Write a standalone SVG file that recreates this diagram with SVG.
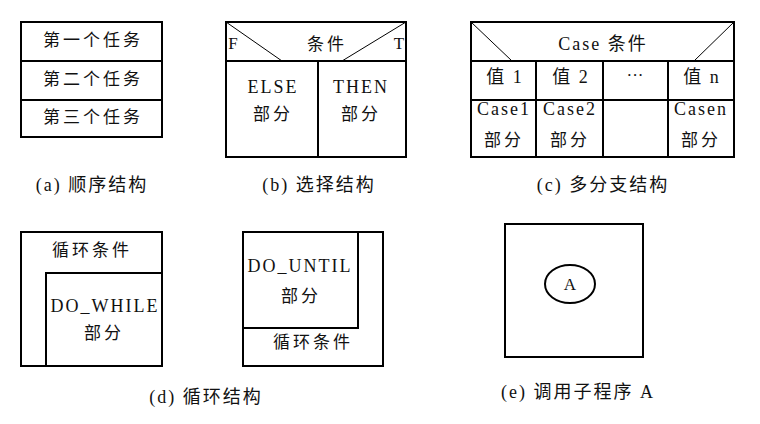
<svg xmlns="http://www.w3.org/2000/svg" width="760" height="424" viewBox="0 0 760 424">
<style>
.b{fill:none;stroke:#000;stroke-width:2}
.d{fill:none;stroke:#000;stroke-width:1}
text{font-family:"Liberation Serif","Noto Sans CJK SC",serif;font-size:17px;fill:#111;text-anchor:middle}
.c{letter-spacing:3px}
.l{letter-spacing:2px;font-size:18px}
.cap{font-size:18px;letter-spacing:2px}
</style>
<rect width="760" height="424" fill="#fff"/>
<g id="a">
<rect class="b" x="21" y="22" width="141" height="115"/>
<line class="b" x1="21" y1="61" x2="162" y2="61"/>
<line class="b" x1="21" y1="100" x2="162" y2="100"/>
<text class="c" x="93" y="46">第一个任务</text>
<text class="c" x="93" y="85">第二个任务</text>
<text class="c" x="93" y="123">第三个任务</text>
<text class="cap" x="92" y="191">(a) 顺序结构</text>
</g>
<g id="b">
<rect class="b" x="226" y="22" width="180" height="135"/>
<line class="b" x1="226" y1="61" x2="406" y2="61"/>
<line class="b" x1="318" y1="61" x2="318" y2="157"/>
<line class="d" x1="226" y1="22" x2="282" y2="61"/>
<line class="d" x1="406" y1="22" x2="342" y2="61"/>
<text x="233" y="49" font-size="18">F</text>
<text x="399" y="49" font-size="18">T</text>
<text class="c" x="327" y="50">条件</text>
<text class="l" x="273" y="93">ELSE</text>
<text class="c" x="273" y="120">部分</text>
<text class="l" x="361" y="93">THEN</text>
<text class="c" x="361" y="120">部分</text>
<text class="cap" x="319" y="191">(b) 选择结构</text>
</g>
<g id="c">
<rect class="b" x="471" y="22" width="263" height="135"/>
<line class="b" x1="471" y1="61" x2="734" y2="61"/>
<line class="b" x1="471" y1="100" x2="734" y2="100"/>
<line class="b" x1="536" y1="61" x2="536" y2="157"/>
<line class="b" x1="603" y1="61" x2="603" y2="157"/>
<line class="b" x1="668" y1="61" x2="668" y2="157"/>
<line class="d" x1="471" y1="22" x2="512" y2="61"/>
<line class="d" x1="734" y1="22" x2="694" y2="61"/>
<text class="l" x="603" y="50">Case 条件</text>
<text class="l" x="505" y="83" letter-spacing="4">值 1</text>
<text class="l" x="571" y="83" letter-spacing="4">值 2</text>
<text x="635" y="81" font-size="18">···</text>
<text class="l" x="702" y="83" letter-spacing="4">值 n</text>
<text class="l" x="504" y="115" letter-spacing="1">Case1</text>
<text class="c" x="504" y="146">部分</text>
<text class="l" x="570" y="115" letter-spacing="1">Case2</text>
<text class="c" x="570" y="146">部分</text>
<text class="l" x="701" y="115" letter-spacing="1">Casen</text>
<text class="c" x="701" y="146">部分</text>
<text class="cap" x="603" y="191">(c) 多分支结构</text>
</g>
<g id="d1">
<rect class="b" x="21" y="232" width="141" height="134"/>
<polyline class="b" points="46,366 46,273 162,273"/>
<text class="c" x="92" y="256">循环条件</text>
<text class="l" x="105" y="312">DO_WHILE</text>
<text class="c" x="104" y="339">部分</text>
</g>
<g id="d2">
<rect class="b" x="243" y="232" width="140" height="134"/>
<polyline class="b" points="243,328 358,328 358,232"/>
<text class="l" x="300" y="272">DO_UNTIL</text>
<text class="c" x="301" y="302">部分</text>
<text class="c" x="313" y="348">循环条件</text>
<text class="cap" x="206" y="403">(d) 循环结构</text>
</g>
<g id="e">
<rect class="b" x="505" y="224" width="138" height="133"/>
<ellipse class="b" cx="570" cy="284" rx="25" ry="19"/>
<text x="570" y="290" font-size="18">A</text>
<text class="cap" x="578" y="398">(e) 调用子程序 A</text>
</g>
</svg>
